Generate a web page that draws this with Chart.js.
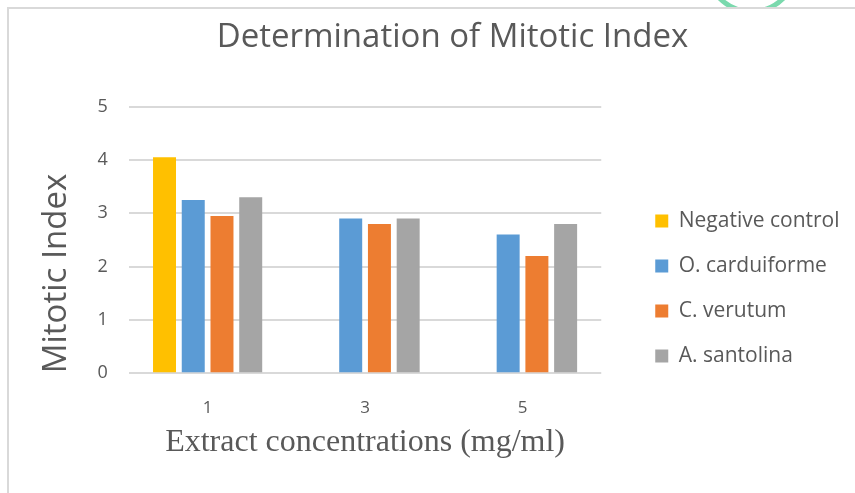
<!DOCTYPE html>
<html>
<head>
<meta charset="utf-8">
<script src="https://cdn.jsdelivr.net/npm/chart.js@4/dist/chart.umd.min.js"></script>
<style>
  html, body { margin: 0; padding: 0; background: #ffffff; }
  #wrap { position: relative; width: 855px; height: 493px; overflow: hidden; background: #ffffff; }
  #ring { position: absolute; left: 704px; top: -81px; width: 95px; height: 95px; box-sizing: border-box;
          border: 5px solid #7ad9ad; border-radius: 50%; }
  #frame { position: absolute; left: 7px; top: 7px; width: 900px; height: 600px; background: #ffffff;
           border-left: 2px solid #d9d9d9; border-top: 2px solid #d9d9d9; }
  canvas { position: absolute; left: 0; top: 0; }
</style>
</head>
<body>
<div id="wrap">
  <div id="ring"></div>
  <div id="frame"></div>
  <canvas id="c" width="855" height="493"></canvas>
</div>
<script>
const categories = ['1', '3', '5'];
const seriesNames = ['Negative control', 'O. carduiforme', 'C. verutum', 'A. santolina'];
const negativeControl = [4.05, null, null];
const oCarduiforme = [3.25, 2.9, 2.6];
const cVerutum = [2.95, 2.8, 2.2];
const aSantolina = [3.3, 2.9, 2.8];
const seriesColors = ['#FFC000', '#5B9BD5', '#ED7D31', '#A5A5A5'];
const chartTitle = 'Determination of Mitotic Index';
const yTitle = 'Mitotic Index';
const xTitle = 'Extract concentrations (mg/ml)';

const seriesValues = [negativeControl, oCarduiforme, cVerutum, aSantolina];
const textColor = '#595959';
const gridColor = '#d9d9d9';

const boxShift = {
  id: 'boxShift',
  afterLayout(chart) {
    const l = chart.legend;
    if (l) {
      const dx = 30, dy = 80;
      l.left += dx; l.right += dx + 30;
      l.top += dy; l.bottom += dy;
    }
    const t = chart.titleBlock;
    if (t) {
      const tx = 40;
      t.left += tx; t.right += tx;
    }
  }
};

function draw() {
  new Chart(document.getElementById('c'), {
    type: 'bar',
    data: {
      labels: categories,
      datasets: seriesNames.map((name, i) => ({
        label: name,
        data: seriesValues[i],
        backgroundColor: seriesColors[i],
        borderWidth: 0,
        barPercentage: 0.8,
        categoryPercentage: 0.73
      }))
    },
    options: {
      responsive: false,
      animation: false,
      layout: { padding: { left: 35, right: 65, top: 0, bottom: 31 } },
      plugins: {
        tooltip: { enabled: false },
        title: {
          display: true,
          text: chartTitle,
          color: textColor,
          font: { family: 'Open Sans', size: 33, weight: 'normal' },
          padding: { top: 18, bottom: 49 }
        },
        legend: {
          position: 'right',
          align: 'start',
          fullSize: false,
          labels: {
            color: textColor,
            font: { family: 'Open Sans', size: 21 },
            boxWidth: 13,
            boxHeight: 13,
            padding: 24
          }
        }
      },
      scales: {
        x: {
          grid: { display: false, drawTicks: false },
          border: { display: false },
          ticks: { color: textColor, font: { family: 'Open Sans', size: 17 }, padding: 25 },
          title: {
            display: true,
            text: xTitle,
            color: textColor,
            font: { family: 'Liberation Serif', size: 32 },
            padding: { top: -20, bottom: 0 }
          }
        },
        y: {
          min: 0,
          max: 5,
          ticks: { stepSize: 1, color: textColor, font: { family: 'Open Sans', size: 18 }, padding: 21 },
          grid: { color: gridColor, lineWidth: 2, drawTicks: false },
          border: { display: false },
          title: {
            display: true,
            text: yTitle,
            align: 'start',
            color: textColor,
            font: { family: 'Open Sans', size: 33 },
            padding: { top: 2, bottom: 0 }
          }
        }
      }
    },
    plugins: [boxShift]
  });
}

const fontLoads = ['21px "Open Sans"', '33px "Open Sans"', '32px "Liberation Serif"']
  .map(f => document.fonts.load(f).catch(() => null));
Promise.all(fontLoads).then(draw, draw);
</script>
</body>
</html>
